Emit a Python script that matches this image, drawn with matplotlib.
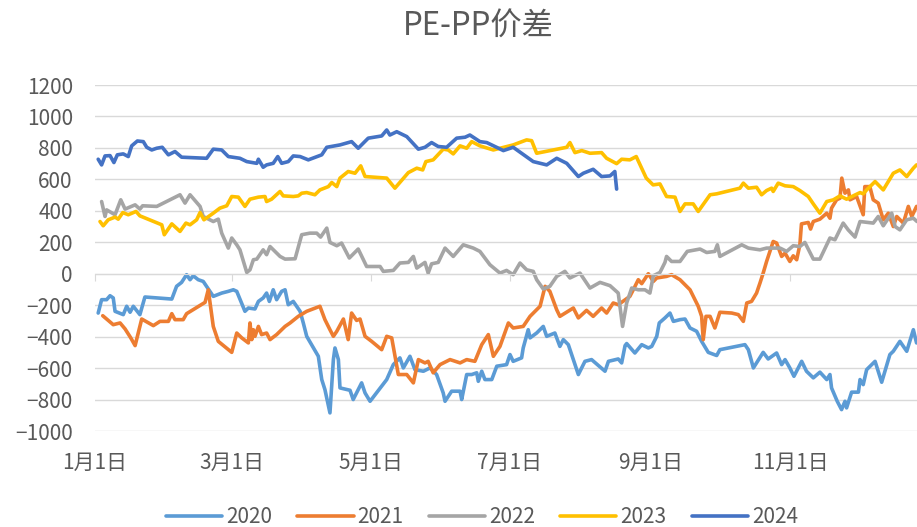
import matplotlib
matplotlib.use('Agg')
import matplotlib.pyplot as plt
import matplotlib.transforms as mtransforms

plt.rcParams['font.family'] = ['Noto Sans CJK SC', 'DejaVu Sans']

# 横轴: 一年中的第几天 (1月1日 = 0)
tick_days = [0, 60, 121, 182, 244, 305]
tick_labels = ['1月1日', '3月1日', '5月1日', '7月1日', '9月1日', '11月1日']
years = ['2020', '2021', '2022', '2023', '2024']
colors = ['#5B9BD5', '#ED7D31', '#A5A5A5', '#FFC000', '#4472C4']

# 2020
d2020 = [1.4, 2.9, 5.1, 6.6, 8.0, 8.8, 12.4, 13.9, 15.4, 16.8, 19.7, 21.9, 33.7, 35.8, 38.0, 40.2,
         41.7, 43.1, 45.3, 47.5, 51.9, 55.6, 58.5, 60.7, 62.2, 65.8, 67.3, 70.2, 71.7, 73.8, 75.3,
         76.5, 78.2, 79.7, 81.9, 83.4, 84.8, 87.0, 90.0, 91.4, 92.9, 95.8, 98.0, 99.5, 100.9, 103.1,
         104.6, 105.3, 106.8, 107.5, 111.9, 113.3, 117.0, 118.5, 120.7, 128.0, 130.9, 133.8, 135.3,
         138.2, 140.4, 144.1, 147.0, 149.9, 152.8, 153.6, 156.5, 160.2, 160.9, 163.1, 165.3, 167.5,
         168.2, 169.7, 171.1, 174.1, 176.3, 180.6, 182.1, 183.5, 187.2, 187.9, 190.1, 190.9, 193.8,
         196.7, 198.2, 201.8, 204.0, 205.5, 207.7, 212.1, 215.0, 217.9, 223.8, 225.3, 229.6, 231.1,
         232.6, 233.3, 236.9, 239.9, 242.8, 244.3, 246.5, 247.6, 250.1, 252.3, 253.8, 256.7, 258.9,
         261.1, 264.0, 266.2, 269.1, 272.8, 274.2, 285.2, 286.7, 288.9, 293.2, 295.4, 299.1, 301.3,
         302.8, 304.9, 306.7, 310.1, 312.2, 315.2, 318.1, 321.1, 322.5, 323.2, 325.7, 327.6, 329.1,
         329.8, 332.0, 335.0, 335.7, 337.1, 338.6, 342.3, 345.2, 348.8, 350.3, 353.2, 356.2, 359.1,
         360.5]
v2020 = [-250, -165, -165, -140, -154, -239, -260, -207, -245, -207, -260, -148, -161, -80, -55, -6,
         -38, -13, -38, -49, -144, -123, -112, -102, -112, -239, -218, -224, -176, -154, -123,
         -176, -102, -165, -112, -102, -197, -176, -239, -313, -398, -470, -525, -673, -737, -885,
         -546, -472, -546, -726, -741, -800, -694, -758, -811, -673, -578, -535, -599,
         -525, -610, -620, -599, -641, -758, -811, -747, -747, -800, -641, -641, -630,
         -684, -620, -673, -673, -588, -578, -514, -557, -535, -472, -356, -408, -377,
         -335, -398, -377, -462, -419, -451, -641, -557, -546, -620, -557, -542, -567,
         -457, -444, -504, -451, -472, -462, -398, -313, -281, -250, -303, -292, -288,
         -345, -366, -430, -500, -520, -483, -451, -483, -599, -500, -542, -504, -578,
         -546, -599, -652, -557, -620, -662, -626, -673, -641, -726, -811, -864, -811,
         -853, -753, -753, -673, -705, -610, -557, -690, -514, -493, -430, -493, -356,
         -440]

# 2021
d2021 = [3.4, 8.0, 11.0, 13.2, 15.7, 17.6, 20.5, 25.6, 28.5, 32.2, 33.7, 35.1, 38.7, 40.2, 48.3, 49.7,
         51.9, 54.1, 60.0, 62.2, 64.4, 67.3, 68.0, 68.8, 69.5, 70.2, 71.7, 73.1, 75.3, 76.8, 79.7,
         83.4, 85.6, 89.2, 92.9, 98.7, 100.9, 103.1, 104.6, 106.1, 109.0, 111.1, 112.6, 114.8, 116.3,
         118.5, 121.4, 125.8, 128.0, 130.2, 133.1, 136.8, 139.7, 141.9, 144.8, 146.2, 148.4, 151.4,
         155.8, 160.2, 163.1, 166.7, 169.7, 172.6, 174.8, 177.7, 181.4, 183.5, 187.9, 190.9, 195.3,
         197.5, 199.6, 202.6, 204.0, 209.9, 212.1, 215.7, 218.6, 222.3, 224.5, 227.4, 229.6, 234.7,
         236.2, 238.4, 239.9, 242.8, 245.0, 246.5, 250.8, 253.0, 256.7, 261.1, 264.7, 266.2, 266.9,
         268.1, 269.9, 272.0, 274.2, 279.4, 282.3, 284.5, 286.0, 288.1, 290.3, 291.8, 293.2, 294.7,
         297.6, 299.1, 301.3, 302.8, 304.9, 306.4, 307.9, 309.3, 310.0, 313.0, 314.0, 315.2, 318.1,
         321.1, 322.5, 323.2, 325.4, 326.9, 327.7, 329.1, 330.6, 331.3, 334.2, 337.1, 337.8, 340.0,
         341.5, 343.7, 345.9, 348.1, 350.3, 351.8, 354.7, 356.9, 358.4, 360.5]
v2021 = [-267, -324, -313, -351, -408, -457, -288, -330, -303, -303, -254, -292, -292, -254, -182, -102,
         -335, -430, -500, -377, -408, -440, -313, -419, -356, -398, -335, -387, -377, -419, -387,
         -335, -313, -271, -239, -207, -292, -356, -398, -366, -288, -419, -250, -297, -288,
         -398, -430, -483, -398, -408, -641, -641, -694, -546, -567, -557, -630, -578,
         -546, -567, -546, -557, -451, -387, -525, -462, -313, -345, -335, -271, -207,
         -80, -112, -229, -271, -218, -281, -233, -271, -218, -250, -186, -197, -144,
         -102, -38, -63, 0, -49, -27, -17, -6, -38, -102, -207, -271, -419,
         -271, -271, -345, -245, -250, -260, -303, -186, -176, -123, -59, 4, 78,
         205, 195, 110, 131, 78, 114, 89, 184, 317, 326, 284, 332, 347,
         385, 353, 417, 470, 480, 608, 512, 533, 470, 491, 375, 554, 554,
         470, 449, 343, 385, 300, 364, 322, 428, 364, 428]

# 2022
d2022 = [2.9, 4.4, 5.1, 8.8, 11.3, 13.2, 17.6, 19.7, 20.9, 27.1, 37.3, 39.5, 41.7, 46.1, 47.5, 51.9,
         54.1, 55.6, 58.5, 60.0, 62.2, 63.6, 66.6, 68.0, 69.5, 71.0, 73.8, 75.3, 76.8, 81.2, 83.4,
         87.8, 90.7, 94.3, 97.3, 99.0, 101.7, 103.1, 106.1, 108.2, 111.6, 115.5, 119.2, 125.1, 126.5,
         130.9, 133.8, 137.5, 139.7, 141.2, 144.8, 146.2, 147.7, 150.6, 153.6, 157.2, 161.6, 166.0,
         168.9, 173.3, 177.7, 180.6, 183.5, 186.5, 189.4, 192.3, 193.8, 196.7, 199.6, 202.6, 206.2,
         208.4, 212.8, 217.2, 221.6, 226.0, 229.6, 231.5, 233.3, 235.5, 238.4, 241.3, 243.5, 245.0,
         247.9, 250.1, 250.8, 253.0, 256.7, 259.9, 265.5, 268.4, 272.0, 273.1, 274.2, 283.8, 286.7,
         291.8, 294.7, 300.6, 303.5, 306.4, 309.3, 311.5, 315.2, 318.1, 322.5, 324.7, 328.3, 330.5,
         333.5, 335.7, 341.5, 343.7, 345.9, 349.6, 351.1, 353.2, 356.2, 359.1, 360.7]
v2022 = [459, 364, 406, 375, 470, 411, 438, 411, 432, 428, 502, 449, 502, 428, 364, 332,
         347, 258, 163, 227, 184, 152, 8, 25, 89, 93, 152, 121, 173, 110, 93,
         95, 248, 258, 258, 233, 290, 199, 178, 195, 100, 157, 46, 46, 15,
         21, 68, 72, 110, 36, 72, 4, 63, 72, 163, 110, 184, 163,
         142, 57, 4, 21, -6, 68, 25, 15, -38, -97, -80, -17, 15,
         -27, 4, -91, -55, -76, -123, -335, -186, -91, -102, -102, -123, -13,
         8, 72, 110, 78, 78, 142, 157, 135, 142, 184, 110, 184, 163,
         152, 163, 163, 142, 178, 173, 199, 93, 93, 227, 216, 322, 279,
         233, 332, 322, 364, 305, 385, 300, 279, 343, 353, 332]

# 2023
d2023 = [2.2, 3.6, 5.8, 8.8, 10.2, 12.2, 14.6, 18.0, 19.7, 29.3, 30.4, 33.7, 37.3, 39.9, 41.7, 44.6,
         46.1, 47.8, 51.9, 54.8, 57.8, 60.0, 62.9, 65.8, 68.0, 71.7, 74.6, 75.3, 77.5, 81.2, 82.6,
         87.0, 89.2, 90.7, 92.9, 96.5, 98.7, 102.4, 103.9, 106.1, 107.5, 111.1, 114.1, 116.6, 118.5,
         128.0, 131.6, 137.5, 141.2, 143.8, 145.2, 148.4, 152.8, 155.0, 157.2, 160.2, 163.1, 165.3,
         168.9, 174.8, 183.5, 189.4, 191.6, 193.8, 201.1, 207.0, 208.4, 210.6, 213.6, 217.2, 222.3,
         224.5, 228.9, 231.1, 234.7, 237.5, 241.9, 244.9, 247.9, 250.8, 254.5, 256.7, 258.9, 262.5,
         264.7, 269.9, 272.8, 283.0, 284.5, 286.7, 290.3, 292.5, 294.7, 296.9, 297.6, 299.8, 302.8,
         306.4, 309.3, 313.0, 315.2, 318.1, 321.1, 324.0, 326.9, 329.8, 332.7, 335.7, 337.1, 338.6,
         342.3, 345.9, 350.3, 353.2, 356.2, 359.1, 360.5]
v2023 = [332, 305, 343, 360, 347, 389, 375, 396, 368, 311, 248, 317, 269, 322, 311, 343,
         389, 343, 385, 417, 432, 491, 487, 428, 474, 487, 491, 459, 474, 523, 495,
         491, 495, 512, 516, 502, 533, 554, 580, 554, 608, 650, 639, 686, 618,
         608, 544, 643, 671, 660, 713, 724, 792, 787, 762, 813, 798, 840,
         813, 787, 819, 851, 846, 766, 787, 804, 834, 770, 783, 766, 770,
         734, 700, 728, 724, 745, 608, 565, 571, 491, 487, 396, 444, 444,
         396, 502, 508, 544, 576, 544, 550, 502, 529, 544, 523, 576, 559,
         554, 529, 491, 444, 385, 459, 470, 495, 474, 495, 516, 508, 533,
         586, 533, 639, 660, 618, 671, 692]

# 2024
d2024 = [1.4, 2.9, 4.4, 6.6, 8.3, 9.8, 12.4, 14.6, 16.1, 18.6, 21.2, 22.7, 24.9, 27.1, 29.5, 32.2,
         35.1, 38.0, 49.0, 51.9, 55.6, 58.5, 63.6, 66.6, 71.0, 71.7, 73.8, 75.3, 78.2, 80.2, 81.9,
         84.8, 87.0, 90.0, 93.6, 99.5, 101.7, 107.5, 112.6, 115.5, 119.9, 125.8, 128.0, 129.4, 132.4,
         136.8, 141.9, 144.8, 147.7, 150.6, 154.3, 158.7, 162.4, 164.5, 168.9, 171.9, 179.2, 183.5,
         192.3, 198.2, 202.6, 207.0, 212.1, 214.3, 218.6, 222.3, 226.0, 228.1, 228.9]
v2024 = [728, 692, 749, 751, 707, 756, 762, 745, 813, 844, 840, 804, 787, 798, 804, 756,
         777, 741, 734, 792, 787, 745, 734, 713, 702, 728, 677, 692, 702, 745, 702,
         713, 749, 745, 724, 756, 804, 819, 840, 798, 862, 876, 914, 882, 903,
         872, 792, 804, 834, 809, 804, 862, 868, 882, 840, 834, 783, 804,
         713, 692, 734, 702, 618, 639, 664, 618, 622, 650, 538]

days = [d2020, d2021, d2022, d2023, d2024]
vals = [v2020, v2021, v2022, v2023, v2024]

txt = '#595959'
grid = '#D9D9D9'

fig = plt.figure(figsize=(9.17, 5.27), dpi=100)
ax = fig.add_axes([95 / 917, 1 - 431 / 527, 1 - 95 / 917, 346 / 527])

for d, v, y, c in zip(days, vals, years, colors):
    ax.plot(d, v, color=c, lw=2.6, label=y, solid_joinstyle='round', solid_capstyle='round')

ax.set_xlim(0, 360.7)
ax.set_ylim(-1000, 1200)
ax.set_yticks(range(-1000, 1201, 200))
ax.yaxis.grid(True, color=grid, lw=1)
ax.set_axisbelow(True)
ax.tick_params(axis='y', length=0, pad=16, labelsize=15, labelcolor=txt)

for s in ['left', 'top', 'right']:
    ax.spines[s].set_visible(False)
ax.spines['bottom'].set_position(('data', 0))
ax.spines['bottom'].set_color(grid)
ax.set_xticks(tick_days)
ax.tick_params(axis='x', length=5, color=grid, labelbottom=False)

trans = mtransforms.blended_transform_factory(ax.transData, ax.transAxes)
for d, lab in zip(tick_days, tick_labels):
    ax.text(d, -32 / 346, lab, transform=trans, ha='center', va='center',
            fontsize=15, color=txt)

fig.text(478 / 917, 1 - 27 / 527, 'PE-PP价差', ha='center', va='center',
         fontsize=22.5, color=txt)

ax.legend(ncol=5, loc='center', bbox_to_anchor=(482 / 917, 1 - 517 / 527),
          bbox_transform=fig.transFigure, frameon=False, handlelength=2.7,
          handletextpad=0.2, columnspacing=1.2, fontsize=15, labelcolor=txt)

fig.savefig('out.png', dpi=100)
